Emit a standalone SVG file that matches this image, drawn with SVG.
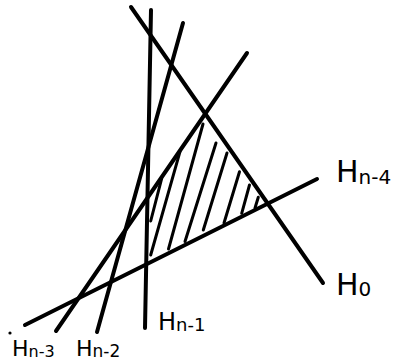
<svg xmlns="http://www.w3.org/2000/svg" width="402" height="364" viewBox="0 0 402 364">
<style>
.ln{stroke:#000;stroke-width:4;stroke-linecap:round;fill:none}
.ht{stroke:#000;stroke-width:3;stroke-linecap:round;fill:none}
.lb{font-family:"DejaVu Sans","Liberation Sans",sans-serif;fill:#000}
</style>
<rect width="402" height="364" fill="#fff"/>
<g id="connectors">
<line id="H0" class="ln" x1="131" y1="7" x2="323" y2="283"/>
<line id="Hn-1" class="ln" x1="151" y1="10" x2="145" y2="328"/>
<line id="Hn-2" class="ln" x1="183" y1="23" x2="97" y2="332"/>
<line id="Hn-3" class="ln" x1="247" y1="53" x2="56" y2="331"/>
<line id="Hn-4" class="ln" x1="25" y1="325" x2="317" y2="179"/>
</g>
<g id="hatching">
<line class="ht" x1="161.7" y1="178.3" x2="150.7" y2="221"/>
<line class="ht" x1="180" y1="151.7" x2="150.7" y2="255"/>
<line class="ht" x1="203" y1="124" x2="168.5" y2="249"/>
<line class="ht" x1="216" y1="143" x2="185" y2="241.5"/>
<line class="ht" x1="227" y1="153" x2="203.3" y2="230"/>
<line class="ht" x1="239.5" y1="171.7" x2="224" y2="223"/>
<line class="ht" x1="249.5" y1="185" x2="241.7" y2="213.3"/>
<line class="ht" x1="258.3" y1="197.3" x2="255" y2="208"/>
</g>
<g id="label-Hn-4"><text class="lb" x="336" y="182" font-size="30">H<tspan font-size="20" dy="2">n-4</tspan></text></g>
<g id="label-H0"><text class="lb" x="336" y="295" font-size="30">H<tspan font-size="20" dy="1">0</tspan></text></g>
<g id="label-Hn-1"><text class="lb" x="158" y="330" font-size="24">H<tspan font-size="18" dy="1">n-1</tspan></text></g>
<g id="label-Hn-3"><text class="lb" x="12" y="356" font-size="22">H<tspan font-size="16" dy="1">n-3</tspan></text></g>
<g id="label-Hn-2"><text class="lb" x="76" y="356" font-size="22">H<tspan font-size="17" dy="1">n-2</tspan></text></g>
<circle cx="10" cy="333" r="1.6" fill="#000"/>
</svg>
